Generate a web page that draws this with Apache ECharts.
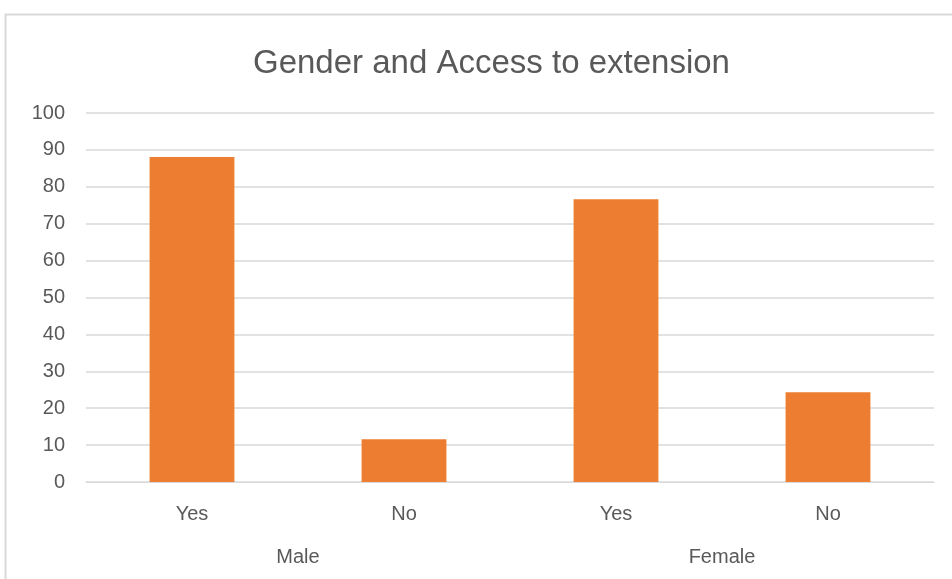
<!DOCTYPE html>
<html><head><meta charset="utf-8">
<script src="https://cdn.jsdelivr.net/npm/echarts@6/dist/echarts.min.js"></script>
<style>html,body{margin:0;padding:0;background:#fff}#c{width:952px;height:579px}</style>
</head><body><div id="c"></div>
<script>
const titleText = 'Gender and Access to extension';
const categories = ['Yes', 'No', 'Yes', 'No'];
const groups = ['Male', 'Female'];
const values = [88.1, 11.6, 76.6, 24.3];
const yTicks = { min: 0, max: 100, interval: 10 };

const chart = echarts.init(document.getElementById('c'));
const font = 'Liberation Sans, Arial, sans-serif';
chart.setOption({
  animation: false,
  backgroundColor: '#fff',
  title: { text: titleText, left: 248, top: 42, textStyle: { fontFamily: font, fontSize: 33, fontWeight: 'normal', color: '#595959' } },
  graphic: [{ type: 'rect', shape: { x: 5.5, y: 14.5, width: 1000, height: 700 }, style: { fill: 'none', stroke: '#d9d9d9', lineWidth: 2 }, silent: true }],
  grid: { left: 86, right: 18, top: 113, bottom: 97 },
  xAxis: [
    { type: 'category', data: categories, axisLine: { show: true, lineStyle: { color: '#d9d9d9', width: 1 } }, axisTick: { show: false },
      axisLabel: { fontFamily: font, fontSize: 20, color: '#595959', margin: 22 } },
    { type: 'category', data: groups, position: 'bottom', offset: 0, axisLine: { show: false }, axisTick: { show: false },
      axisLabel: { fontFamily: font, fontSize: 20, color: '#595959', margin: 65 } }
  ],
  yAxis: { type: 'value', min: yTicks.min, max: yTicks.max, interval: yTicks.interval,
    axisLine: { show: false }, axisTick: { show: false },
    splitLine: { lineStyle: { color: '#d9d9d9', width: 1.5 } },
    axisLabel: { fontFamily: font, fontSize: 20, color: '#595959', margin: 21 } },
  series: [{ type: 'bar', data: values, xAxisIndex: 0, barWidth: '40%', itemStyle: { color: '#ED7D31' } }]
});
</script></body></html>
